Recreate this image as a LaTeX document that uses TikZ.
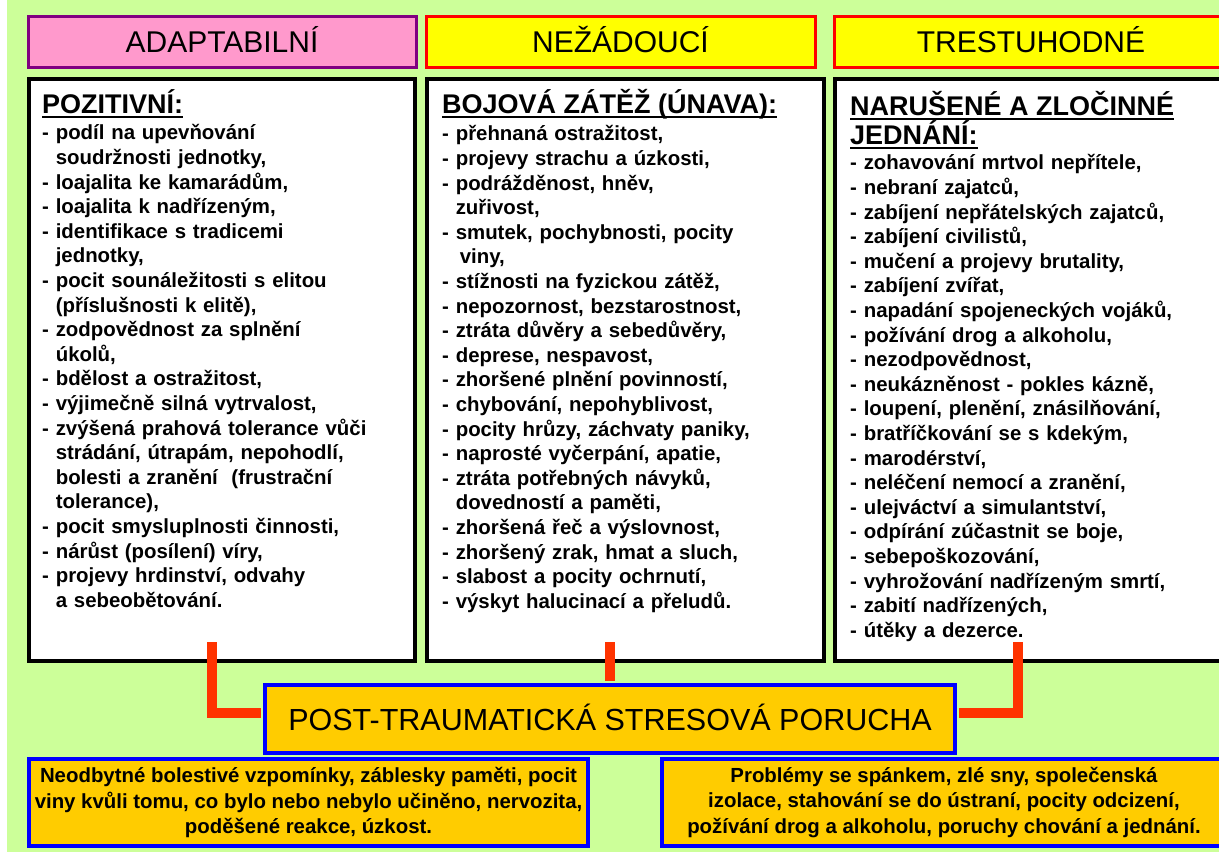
\documentclass[tikz,border=0pt]{standalone}
\usepackage{fontspec}
\setmainfont{Liberation Sans}
\usepackage{xcolor}
\usepackage{tikz}
\usetikzlibrary{positioning,calc}

\definecolor{bgGreen}{HTML}{CCFF99}
\definecolor{hdrPink}{HTML}{FF99CC}
\definecolor{hdrPurple}{HTML}{800080}
\definecolor{hdrYellow}{HTML}{FFFF00}
\definecolor{boxGold}{HTML}{FFCC00}
\definecolor{linkRed}{HTML}{FF3300}

\newcommand{\contline}{\hphantom{- }}

\begin{document}
\begin{tikzpicture}[x=1pt, y=-1pt,
    header/.style={draw, line width=3pt, minimum width=388pt, minimum height=51pt,
        text height=21.5pt, text depth=0pt, inner sep=0pt,
        font=\fontsize{30}{36}\selectfont},
    column/.style={draw=black, fill=white, line width=4pt, minimum height=582pt, inner sep=0pt},
    heading/.style={anchor=base west, inner sep=0pt,
        font=\bfseries\fontsize{27}{29.5}\selectfont},
    underl/.style={line width=2.5pt},
    items/.style={anchor=base west, inner sep=0pt, text width=370pt, align=left,
        font=\bfseries\fontsize{20.4}{24.6}\selectfont},
    goldbox/.style={draw=blue, fill=boxGold, line width=4pt, inner sep=0pt},
    link/.style={draw=linkRed, line width=10pt}
]
    \useasboundingbox (0,0) rectangle (1219,858);
    \clip (0,0) rectangle (1219,858);

    % Background
    \fill[white] (0,0) rectangle (1219,858);
    \fill[bgGreen] (7,0) rectangle (1219,852);

    % Column boxes
    \node[column, minimum width=386pt] (posbox) at (222,370) {};
    \node[column, minimum width=397pt] (stressbox) at (625.5,370) {};
    \node[column, minimum width=397pt] (crimebox) at (1033.5,370) {};

    % Headers
    \node[header, draw=hdrPurple, fill=hdrPink] (adapt) at (222,42) {ADAPTABILNÍ};
    \node[header, draw=red, fill=hdrYellow, minimum width=389pt] (unwanted) at (620.5,42) {NEŽÁDOUCÍ};
    \node[header, draw=red, fill=hdrYellow, minimum width=393pt] (punish) at (1031,42) {TRESTUHODNÉ};

    % Column texts
    \node[heading] (posttl) at (42,114) {POZITIVNÍ:};
    \draw[underl] ([yshift=-3pt]posttl.base west) -- ([yshift=-3pt]posttl.base east);
    \node[items] (positems) at (42,140) {%
        - podíl na upevňování\\
        \contline soudržnosti jednotky,\\
        - loajalita ke kamarádům,\\
        - loajalita k nadřízeným,\\
        - identifikace s tradicemi\\
        \contline jednotky,\\
        - pocit sounáležitosti s elitou\\
        \contline (příslušnosti k elitě),\\
        - zodpovědnost za splnění\\
        \contline úkolů,\\
        - bdělost a ostražitost,\\
        - výjimečně silná vytrvalost,\\
        - zvýšená prahová tolerance vůči\\
        \contline strádání, útrapám, nepohodlí,\\
        \contline bolesti a zranění~~(frustrační\\
        \contline tolerance),\\
        - pocit smysluplnosti činnosti,\\
        - nárůst (posílení) víry,\\
        - projevy hrdinství, odvahy\\
        \contline a sebeobětování.};

    \node[heading] (stressttl) at (442,114) {BOJOVÁ ZÁTĚŽ (ÚNAVA):};
    \draw[underl] ([yshift=-3pt]stressttl.base west) -- ([yshift=-3pt]stressttl.base east);
    \node[items] (stressitems) at (442,141) {%
        - přehnaná ostražitost,\\
        - projevy strachu a úzkosti,\\
        - podrážděnost, hněv,\\
        \contline zuřivost,\\
        - smutek, pochybnosti, pocity\\
        \contline\hspace{4pt}viny,\\
        - stížnosti na fyzickou zátěž,\\
        - nepozornost, bezstarostnost,\\
        - ztráta důvěry a sebedůvěry,\\
        - deprese, nespavost,\\
        - zhoršené plnění povinností,\\
        - chybování, nepohyblivost,\\
        - pocity hrůzy, záchvaty paniky,\\
        - naprosté vyčerpání, apatie,\\
        - ztráta potřebných návyků,\\
        \contline dovedností a paměti,\\
        - zhoršená řeč a výslovnost,\\
        - zhoršený zrak, hmat a sluch,\\
        - slabost a pocity ochrnutí,\\
        - výskyt halucinací a přeludů.};

    \node[heading] (crimettl) at (850,116) {NARUŠENÉ A ZLOČINNÉ};
    \draw[underl] ([yshift=-3pt]crimettl.base west) -- ([yshift=-3pt]crimettl.base east);
    \node[heading] (crimettlb) at (850,145) {JEDNÁNÍ:};
    \draw[underl] ([yshift=-3pt]crimettlb.base west) -- ([yshift=-3pt]crimettlb.base east);
    \node[items] (crimeitems) at (850,170) {%
        - zohavování mrtvol nepřítele,\\
        - nebraní zajatců,\\
        - zabíjení nepřátelských zajatců,\\
        - zabíjení civilistů,\\
        - mučení a projevy brutality,\\
        - zabíjení zvířat,\\
        - napadání spojeneckých vojáků,\\
        - požívání drog a alkoholu,\\
        - nezodpovědnost,\\
        - neukázněnost - pokles kázně,\\
        - loupení, plenění, znásilňování,\\
        - bratříčkování se s kdekým,\\
        - marodérství,\\
        - neléčení nemocí a zranění,\\
        - ulejváctví a simulantství,\\
        - odpírání zúčastnit se boje,\\
        - sebepoškozování,\\
        - vyhrožování nadřízeným smrtí,\\
        - zabití nadřízených,\\
        - útěky a dezerce.};

    % Central box and connectors
    \node[goldbox, minimum width=690pt, minimum height=68pt,
        text height=22pt, text depth=0pt,
        font=\fontsize{30.5}{36}\selectfont] (ptsd) at (610,719) {POST-TRAUMATICKÁ STRESOVÁ PORUCHA};
    \coordinate (posend) at (212,642);
    \coordinate (stressend) at (610,642);
    \coordinate (crimeend) at (1018,642);
    \draw[link] (posend) |- ([xshift=-2pt,yshift=6pt]ptsd.west);
    \draw[link] (stressend) -- ([yshift=2pt]stressend |- ptsd.north);
    \draw[link] (crimeend) |- ([xshift=2pt,yshift=6pt]ptsd.east);

    % Symptom boxes
    \node[goldbox, minimum width=559pt, minimum height=87pt, align=center,
        font=\bfseries\fontsize{20.4}{25.5}\selectfont] (symleft) at (308.5,802.5)
        {Neodbytné bolestivé vzpomínky, záblesky paměti, pocit\\
         viny kvůli tomu, co bylo nebo nebylo učiněno, nervozita,\\
         poděšené reakce, úzkost.};
    \node[goldbox, minimum width=564pt, minimum height=87pt, align=center,
        font=\bfseries\fontsize{20.4}{25.5}\selectfont] (symright) at (944,802.5)
        {Problémy se spánkem, zlé sny, společenská\\
         izolace, stahování se do ústraní, pocity odcizení,\\
         požívání drog a alkoholu, poruchy chování a jednání.};
\end{tikzpicture}
\end{document}
